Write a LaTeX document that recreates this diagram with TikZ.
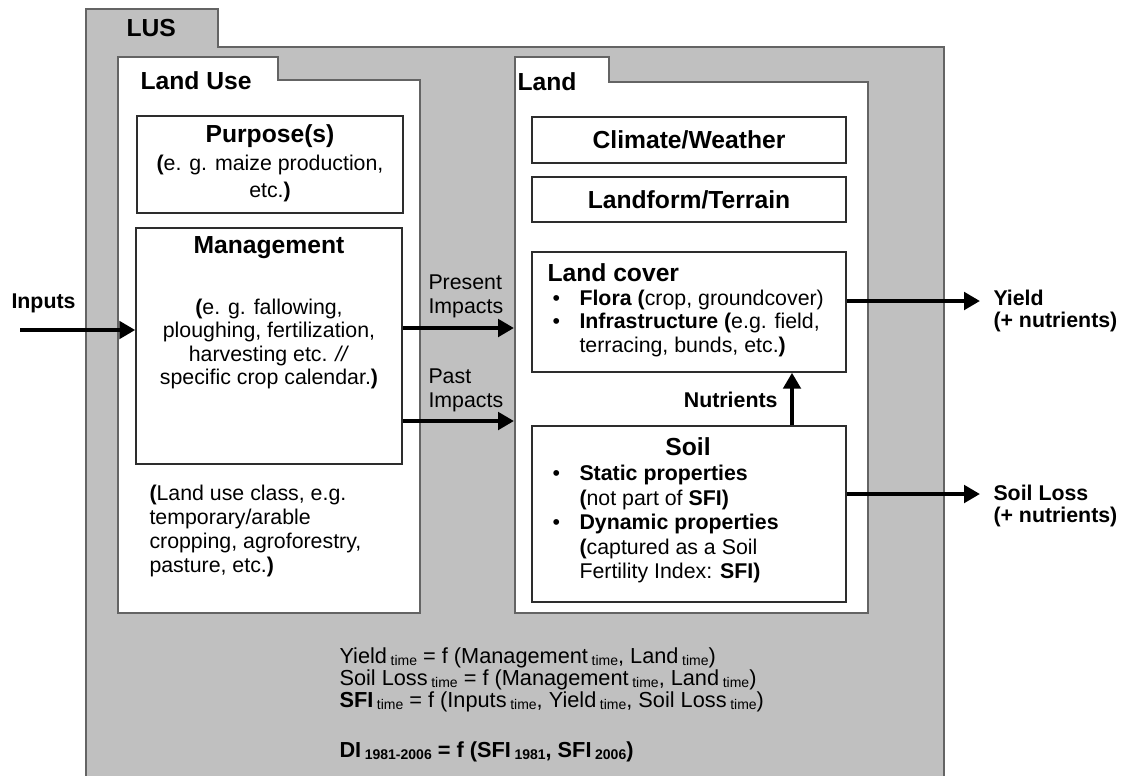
\documentclass[tikz,border=0pt]{standalone}
\usepackage{fontspec}
\setmainfont{Liberation Sans}
\usetikzlibrary{positioning,arrows.meta,fit}

\definecolor{lusgrey}{RGB}{192,192,192}
\definecolor{edgegrey}{RGB}{100,100,100}
\definecolor{boxedge}{RGB}{45,45,45}

\newcommand{\titlefont}{\fontsize{18.5}{21}\selectfont\bfseries}
\newcommand{\tsub}[1]{\,\raisebox{-2pt}{\fontsize{10.5}{10.5}\selectfont #1}}
\newcommand{\bitem}[1]{\makebox[20.25pt][l]{\textbullet}#1}
\newcommand{\bcont}[1]{\hspace*{20.25pt}#1}

\tikzset{every picture/.style={line width=0.75pt}}
\tikzset{
  folder/.style={draw=edgegrey, line width=1.5pt},
  box/.style={draw=boxedge, line width=1.1pt, fill=white, inner sep=0pt},
  flow/.style={line width=3pt, -{Triangle[length=12pt,width=13pt]}},
  title/.style={font=\titlefont, inner sep=0.75pt},
  body/.style={font=\fontsize{16}{17.5}\selectfont, inner sep=0.75pt},
  lab/.style={font=\fontsize{16}{16.5}\selectfont\bfseries, inner sep=0.75pt, align=left},
  eqn/.style={font=\fontsize{16.3}{16.5}\selectfont, inner sep=0.75pt, align=left},
}

\begin{document}
\begin{tikzpicture}[x=0.75pt,y=0.75pt,yscale=-1,xscale=1]
\useasboundingbox (0,0) rectangle (1124,775);

%Shape: Folder [LUS]
\fill[lusgrey] (86,9) -- (218,9) -- (218,47) -- (944,47) -- (944,778) -- (86,778) -- cycle ;
\draw[folder] (86,778) -- (86,9) -- (218,9) -- (218,47) -- (944,47) -- (944,778) ;
%Shape: Folder [Land Use]
\draw[folder, fill=white] (118,57) -- (278,57) -- (278,80) -- (420,80) -- (420,613) -- (118,613) -- cycle ;
%Shape: Folder [Land]
\draw[folder, fill=white] (515,57) -- (609,57) -- (609,82) -- (868,82) -- (868,613) -- (515,613) -- cycle ;

%Shape: Rectangle [Purpose]
\node[box, fit={(137,116) (403,213)}] (purpose) {};
%Shape: Rectangle [Management]
\node[box, fit={(136,228) (402,464)}] (mgmt) {};
%Shape: Rectangle [Climate]
\node[box, fit={(532,117) (846,163)}] (climate) {};
%Shape: Rectangle [Terrain]
\node[box, fit={(532,177) (846,222)}] (terrain) {};
%Shape: Rectangle [Land cover]
\node[box, fit={(532,252) (846,372)}] (cover) {};
%Shape: Rectangle [Soil]
\node[box, fit={(532,426) (846,602)}] (soil) {};

% Text Node
\node[title, anchor=west] (lustitle) at (125,28) {LUS};
% Text Node
\node[title, anchor=west] (landusetitle) at (139,81) {Land Use};
% Text Node
\node[title, anchor=west] (landtitle) at (516,82) {Land};
% Text Node
\node[title] (purposetitle) at (270,136) {Purpose(s)};
% Text Node
\node[body, font=\fontsize{16}{20}\selectfont, anchor=north, align=center] (purposetxt) at (270,153.5) {\textbf{(}e. g. maize production,\\ etc.\textbf{)}};
% Text Node
\node[title] (mgmttitle) at (269,248) {Management};
% Text Node
\node[body, anchor=north, align=center] (mgmttxt) at (269,297.5) {\textbf{(}e. g. fallowing,\\ ploughing, fertilization,\\ harvesting etc. \textit{//}\\ specific crop calendar.\textbf{)}};
% Text Node
\node[body, font=\fontsize{16}{18}\selectfont, anchor=north west, align=left] (classtxt) at (148,483.5) {\textbf{(}Land use class, e.g.\\ temporary/arable\\ cropping, agroforestry,\\ pasture, etc.\textbf{)}};
% Text Node
\node[title] (climatetxt) at (climate.center) {Climate/Weather};
% Text Node
\node[title] (terraintxt) at (terrain.center) {Landform/Terrain};
% Text Node
\node[title, anchor=west] (covertitle) at (546,273) {Land cover};
% Text Node
\node[body, anchor=north west, align=left] (coverlist) at (551,288.5) {\bitem{\textbf{Flora} \textbf{(}crop, groundcover)}\\ \bitem{\textbf{Infrastructure} \textbf{(}e.g. field,}\\ \bcont{terracing, bunds, etc.\textbf{)}}};
% Text Node
\node[title] (soiltitle) at (688,447) {Soil};
% Text Node
\node[body, font=\fontsize{16}{18.4}\selectfont, anchor=north west, align=left] (soillist) at (551,463.5) {\bitem{\textbf{Static properties}}\\ \bcont{\textbf{(}not part of \textbf{SFI)}}\\ \bitem{\textbf{Dynamic properties}}\\ \bcont{\textbf{(}captured as a Soil}\\ \bcont{Fertility Index: \textbf{SFI)}}};
% Text Node
\node[body, anchor=north west, align=left] (presenttxt) at (427,273.5) {Present\\ Impacts};
% Text Node
\node[body, anchor=north west, align=left] (pasttxt) at (427,367.5) {Past\\ Impacts};
% Text Node
\node[lab, anchor=east] (nutrienttxt) at (779,400) {Nutrients};
% Text Node
\node[lab, anchor=west] (inputstxt) at (10,303) {Inputs};
% Text Node
\node[lab, anchor=north west] (yieldtxt) at (992,288.5) {Yield\\ (+ nutrients)};
% Text Node
\node[lab, anchor=north west] (losstxt) at (992,483.5) {Soil Loss\\ (+ nutrients)};
% Text Node
\node[eqn, anchor=north west] (eqns) at (338,646) {Yield\tsub{time} = f (Management\tsub{time}, Land\tsub{time})\\ Soil Loss\tsub{time} = f (Management\tsub{time}, Land\tsub{time})\\ \textbf{SFI}\tsub{time} = f (Inputs\tsub{time}, Yield\tsub{time}, Soil Loss\tsub{time})};
% Text Node
\node[eqn, anchor=north west] (dieqn) at (338,740) {\bfseries DI\tsub{1981-2006} = f (SFI\tsub{1981}, SFI\tsub{2006})};

% Arrows
\coordinate (inputsstart) at (20,330);
\coordinate (presentend) at (514,328);
\coordinate (pastend) at (514,421);
\coordinate (yieldend) at (980,301);
\coordinate (lossend) at (980,494);
\coordinate (nutx) at (792,0);
\draw[flow] (inputsstart) -- (inputsstart -| mgmt.west);
\draw[flow] (presentend -| mgmt.east) -- (presentend);
\draw[flow] (pastend -| mgmt.east) -- (pastend);
\draw[flow] (yieldend -| cover.east) -- (yieldend);
\draw[flow] (lossend -| soil.east) -- (lossend);
\draw[flow] (nutx |- soil.north) -- (nutx |- cover.south);

\end{tikzpicture}
\end{document}
